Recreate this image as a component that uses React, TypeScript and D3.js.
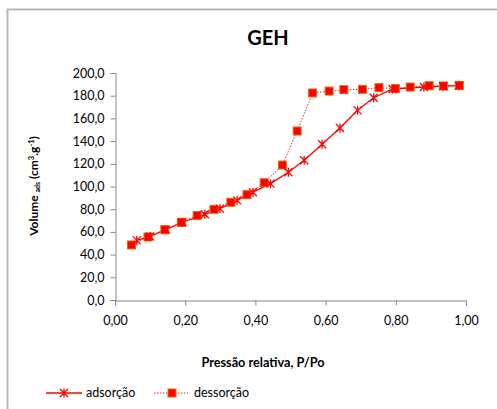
import React, { useEffect, useRef } from 'react'
import * as d3 from 'd3'

// adsorção (asterisks, solid line)
const adsX = [0.062, 0.100, 0.145, 0.192, 0.256, 0.299, 0.348, 0.393, 0.443, 0.494, 0.539, 0.590, 0.641, 0.691, 0.737, 0.791, 0.880, 0.935, 0.980]
const adsY = [52.5, 56.0, 62.0, 68.5, 75.5, 80.5, 87.8, 95.0, 102.5, 112.6, 123.1, 137.2, 151.5, 167.1, 178.2, 185.9, 187.6, 188.5, 188.8]

// dessorção (squares, dotted line)
const desX = [0.047, 0.094, 0.142, 0.189, 0.234, 0.282, 0.330, 0.376, 0.425, 0.477, 0.519, 0.563, 0.610, 0.652, 0.705, 0.752, 0.799, 0.841, 0.895, 0.936, 0.981]
const desY = [48.5, 55.5, 61.9, 68.4, 74.4, 79.9, 86.1, 92.8, 103.3, 118.9, 148.9, 182.4, 184.1, 185.3, 185.6, 187.1, 186.2, 187.6, 188.8, 188.5, 189.1]

const xTicks = [0, 0.2, 0.4, 0.6, 0.8, 1.0]
const yTicks = [0, 20, 40, 60, 80, 100, 120, 140, 160, 180, 200]

const FONT = 'Lato, "Open Sans", sans-serif'

function App() {
  const svgRef = useRef<SVGSVGElement>(null)

  useEffect(() => {
    const svg = d3.select(svgRef.current)
    svg.selectAll('*').remove()

    const x = d3.scaleLinear().domain([0, 1]).range([115, 466])
    const y = d3.scaleLinear().domain([0, 200]).range([300, 73])

    // outer frame
    svg.append('path')
      .attr('d', 'M7.5,409 V9.5 H497')
      .attr('fill', 'none')
      .attr('stroke', '#b8b8b8')
      .attr('stroke-width', 2)

    // title
    svg.append('text')
      .attr('x', 268).attr('y', 45)
      .attr('text-anchor', 'middle')
      .attr('font-family', FONT)
      .attr('font-weight', 'bold')
      .attr('font-size', 20)
      .text('GEH')

    // axes
    const yAxis = d3.axisLeft(y).tickValues(yTicks).tickSize(5).tickPadding(6)
      .tickFormat(d => d3.format('.1f')(d as number).replace('.', ','))
    const gy = svg.append('g').attr('transform', 'translate(115.5,0)').call(yAxis)

    const xAxis = d3.axisBottom(x).tickValues(xTicks).tickSize(5).tickPadding(11)
      .tickFormat(d => d3.format('.2f')(d as number).replace('.', ','))
    const gx = svg.append('g').attr('transform', 'translate(0,300.5)').call(xAxis)

    for (const g of [gx, gy]) {
      g.select('.domain').attr('stroke', '#868686')
      g.selectAll('.tick line').attr('stroke', '#868686')
      g.selectAll('.tick text')
        .attr('font-family', FONT)
        .attr('font-size', 12.5)
        .attr('fill', '#000')
    }

    // axis titles
    const yt = svg.append('text')
      .attr('transform', 'translate(38,186) rotate(-90)')
      .attr('text-anchor', 'middle')
      .attr('font-family', FONT)
      .attr('font-weight', 'bold')
      .attr('font-size', 12)
    yt.append('tspan').text('Volume ')
    yt.append('tspan').attr('font-size', 7).attr('dy', 2).text('ads')
    yt.append('tspan').attr('dy', -2).text(' (cm')
    yt.append('tspan').attr('font-size', 7.5).attr('dy', -4).text('3')
    yt.append('tspan').attr('dy', 4).text('.g')
    yt.append('tspan').attr('font-size', 7.5).attr('dy', -4).text('-1')
    yt.append('tspan').attr('dy', 4).text(')')

    svg.append('text')
      .attr('x', 263).attr('y', 367)
      .attr('text-anchor', 'middle')
      .attr('font-family', FONT)
      .attr('font-weight', 'bold')
      .attr('font-size', 12.7)
      .text('Pressão relativa, P/Po')

    const ads = adsX.map((v, i) => [v, adsY[i]] as [number, number])
    const des = desX.map((v, i) => [v, desY[i]] as [number, number])
    const line = d3.line<[number, number]>().x(d => x(d[0])).y(d => y(d[1]))

    // dessorção line (dotted)
    svg.append('path')
      .attr('d', line(des))
      .attr('fill', 'none')
      .attr('stroke', '#ff2020')
      .attr('stroke-width', 1)
      .attr('stroke-dasharray', '1.5,1.5')

    // adsorção line
    svg.append('path')
      .attr('d', line(ads))
      .attr('fill', 'none')
      .attr('stroke', '#ff0000')
      .attr('stroke-width', 1.3)

    const star = (g: d3.Selection<any, any, any, any>, cx: number, cy: number) => {
      const r = 4
      g.append('path')
        .attr('d', `M${cx - r},${cy - r}L${cx + r},${cy + r}M${cx - r},${cy + r}L${cx + r},${cy - r}M${cx},${cy - r - 0.5}L${cx},${cy + r + 0.5}`)
        .attr('stroke', '#ff0000')
        .attr('stroke-width', 1.3)
        .attr('fill', 'none')
    }
    const square = (g: d3.Selection<any, any, any, any>, cx: number, cy: number) => {
      g.append('rect')
        .attr('x', cx - 4).attr('y', cy - 4)
        .attr('width', 8).attr('height', 8)
        .attr('fill', '#ff0000')
        .attr('stroke', '#e46c0a')
        .attr('stroke-width', 1)
    }

    const gm = svg.append('g')
    des.forEach(d => square(gm, x(d[0]), y(d[1])))
    ads.forEach(d => star(gm, x(d[0]), y(d[1])))

    // legend
    const lg = svg.append('g')
    lg.append('line').attr('x1', 46).attr('x2', 82).attr('y1', 393).attr('y2', 393)
      .attr('stroke', '#ff0000').attr('stroke-width', 1.3)
    star(lg, 64, 393)
    lg.append('text').attr('x', 86).attr('y', 397)
      .attr('font-family', FONT).attr('font-size', 12.5).text('adsorção')
    lg.append('line').attr('x1', 154).attr('x2', 188).attr('y1', 393).attr('y2', 393)
      .attr('stroke', '#ff2020').attr('stroke-width', 1).attr('stroke-dasharray', '1.5,1.5')
    square(lg, 172, 393)
    lg.append('text').attr('x', 194).attr('y', 397)
      .attr('font-family', FONT).attr('font-size', 12.5).text('dessorção')
  }, [])

  return <svg ref={svgRef} width={497} height={409} style={{ position: 'absolute', left: 0, top: 0 }} />
}

export default App
